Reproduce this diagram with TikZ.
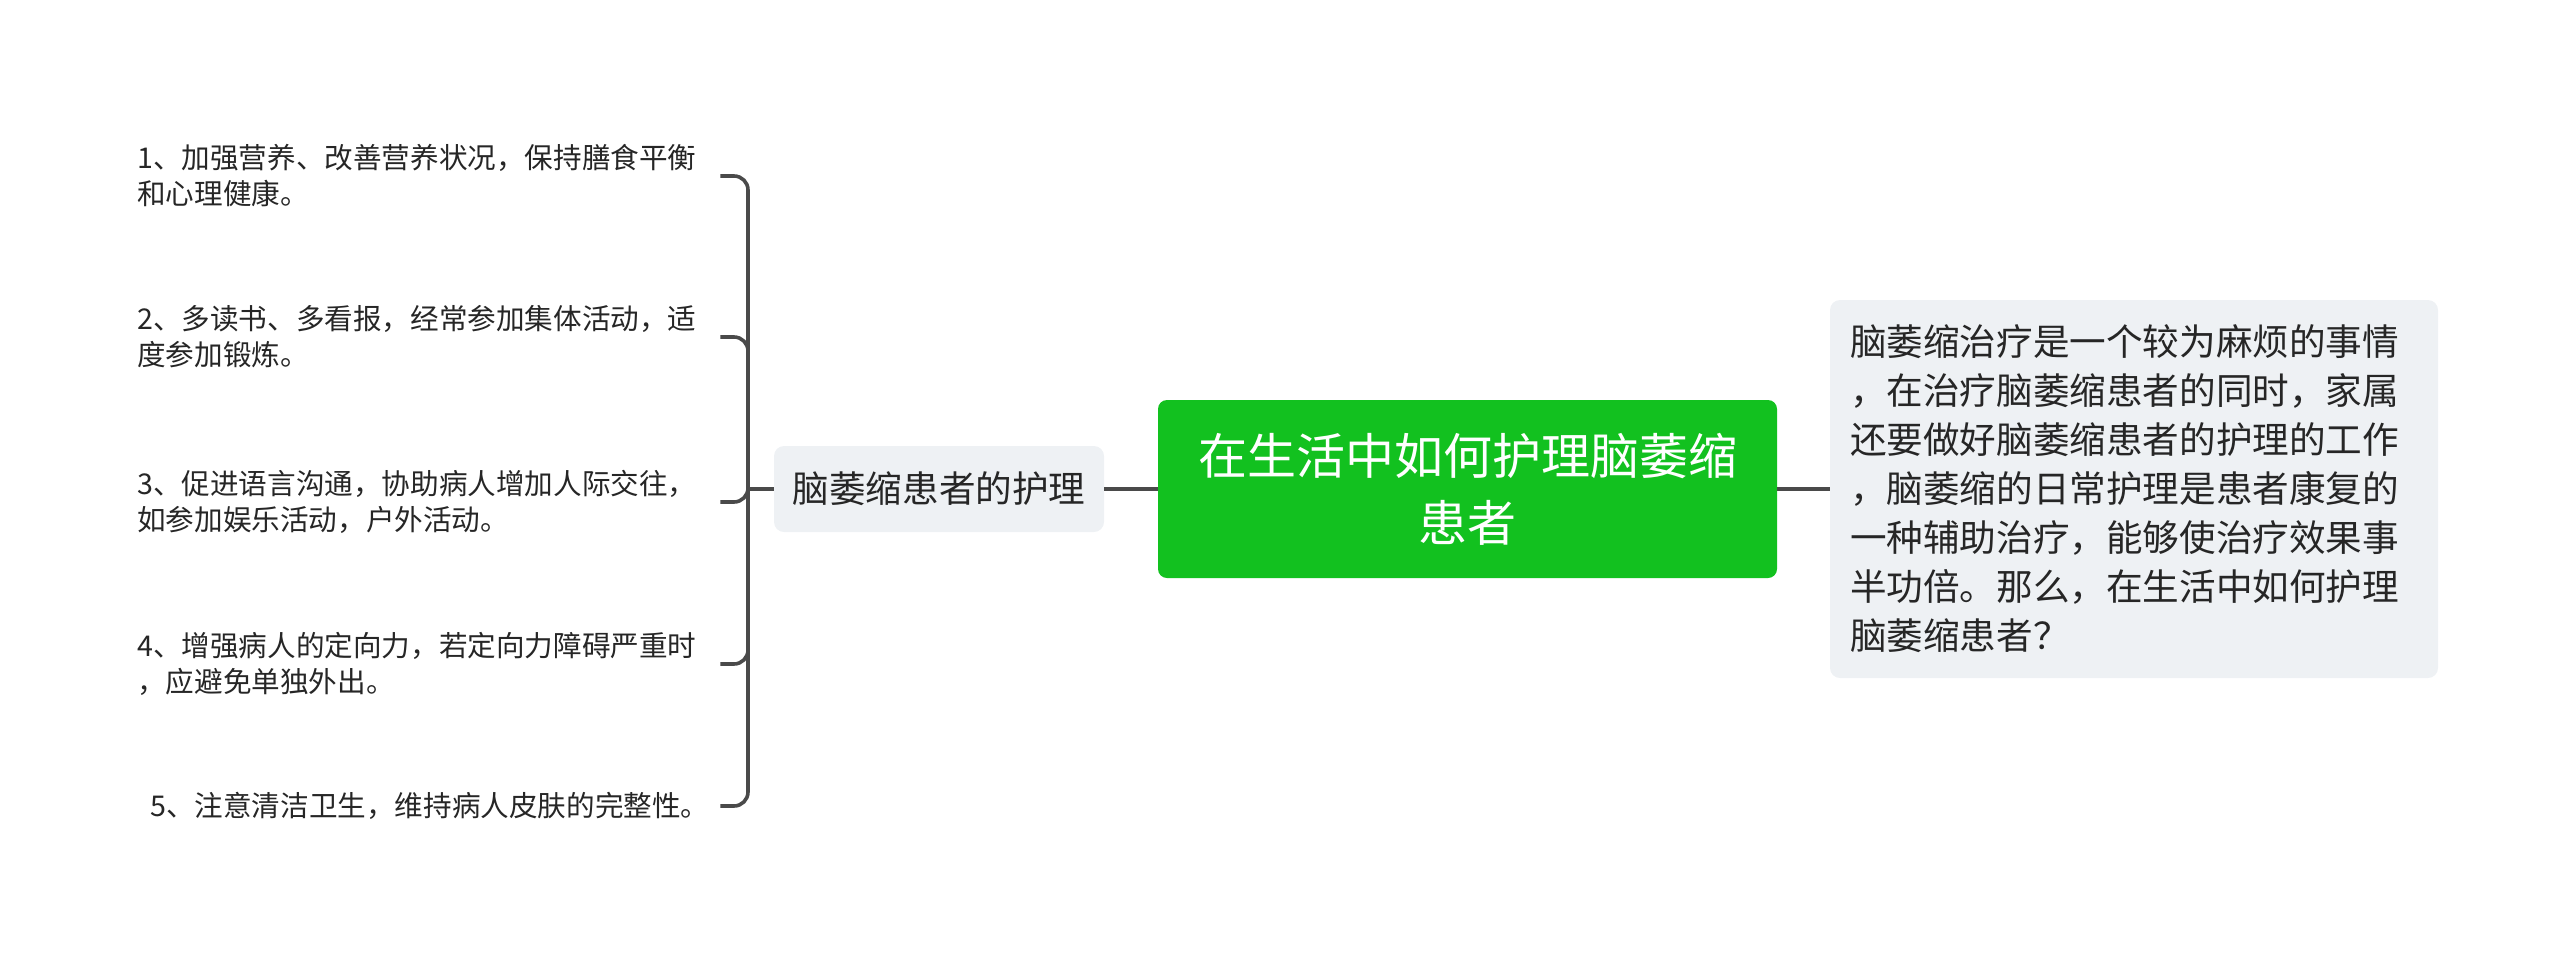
\documentclass[tikz,border=0pt]{standalone}
\usepackage{fontspec}
\setmainfont{Noto Sans CJK SC}
\definecolor{rootgreen}{HTML}{12C11F}
\definecolor{boxgray}{HTML}{EEF1F4}
\definecolor{linegray}{HTML}{4A4A4A}
\definecolor{txt}{HTML}{262626}
\begin{document}
\begin{tikzpicture}[x=1pt,y=-1pt,
  conn/.style={draw=linegray,line width=3.6pt},
  rootbox/.style={fill=rootgreen,draw=none,rounded corners=9pt,text=white,align=center,
    minimum width=619pt,minimum height=178pt,inner sep=0pt,font=\fontsize{49}{67}\selectfont},
  subbox/.style={fill=boxgray,draw=none,rounded corners=10pt,text=txt,align=center,
    minimum width=330pt,minimum height=86pt,inner sep=0pt,font=\fontsize{36.6}{44}\selectfont},
  descbox/.style={fill=boxgray,draw=none,rounded corners=10pt,text=txt,align=left,
    minimum width=608pt,minimum height=378pt,inner xsep=20pt,inner ysep=0pt,text width=568pt,
    font=\fontsize{36.6}{49}\selectfont},
  item/.style={anchor=west,text=txt,align=left,inner sep=0pt,text width=583pt,
    font=\fontsize{28.6}{36}\selectfont}
]
\useasboundingbox (0,0) rectangle (2560,962);
\node[rootbox] (root) at (1467.5,489) {在生活中如何护理脑萎缩\\患者};
\node[subbox] (sub) at (939,489) {脑萎缩患者的护理};
\node[descbox] (desc) at (2134,489) {脑萎缩治疗是一个较为麻烦的事情\\，在治疗脑萎缩患者的同时，家属\\还要做好脑萎缩患者的护理的工作\\，脑萎缩的日常护理是患者康复的\\一种辅助治疗，能够使治疗效果事\\半功倍。那么，在生活中如何护理\\脑萎缩患者？};
\node[item] (i1) at (137,176) {1、加强营养、改善营养状况，保持膳食平衡\\和心理健康。};
\node[item] (i2) at (137,337) {2、多读书、多看报，经常参加集体活动，适\\度参加锻炼。};
\node[item] (i3) at (137,502) {3、促进语言沟通，协助病人增加人际交往，\\如参加娱乐活动，户外活动。};
\node[item] (i4) at (137,664) {4、增强病人的定向力，若定向力障碍严重时\\，应避免单独外出。};
\node[item] (i5) at (137,806) {\hspace{13pt}5、注意清洁卫生，维持病人皮肤的完整性。};
\coordinate (bmid) at (748,489);
\draw[conn] (root.east) -- (desc.west);
\draw[conn] (sub.east) -- (root.west);
\draw[conn] (bmid) -- (sub.west);
\foreach \n in {i1,i2,i3,i4,i5}{
  \draw[conn,rounded corners=14pt] (bmid) |- (\n.east);
}
\end{tikzpicture}
\end{document}
